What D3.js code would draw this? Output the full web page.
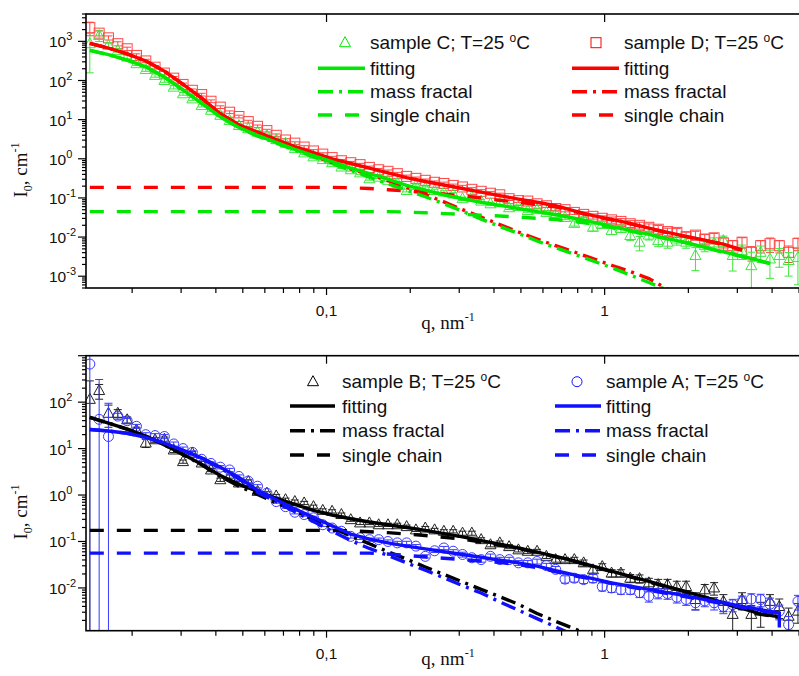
<!DOCTYPE html>
<html><head><meta charset="utf-8">
<script src="https://cdn.jsdelivr.net/npm/d3@7"></script>
<style>body{margin:0;background:#fff}svg{display:block}</style>
</head><body>
<svg id="c" width="799" height="676"></svg>
<script>
// ---------- DATA (q in nm^-1, intensities given as log10(I / cm^-1)) ----------
const qData = [0.01409,0.01522,0.01644,0.01776,0.01919,0.02073,0.02239,0.02418,0.02612,0.02822,
0.03048,0.03293,0.03556,0.03842,0.04150,0.04482,0.04842,0.05230,0.05649,0.06102,
0.06592,0.07120,0.07691,0.08308,0.08974,0.09694,0.1047,0.1131,0.1222,0.1320,
0.1426,0.1540,0.1663,0.1797,0.1941,0.2096,0.2265,0.2446,0.2642,0.2854,
0.3083,0.3330,0.3597,0.3886,0.4198,0.4534,0.4898,0.5291,0.5715,0.6173,
0.6668,0.7203,0.7780,0.8404,0.9078,0.9806,1.059,1.144,1.236,1.335,
1.442,1.558,1.683,1.818,1.963,2.121,2.291,2.475,2.673,2.887,
3.119,3.369,3.639,3.931,4.246,4.587,4.955];

// top panel: sample D (red squares), sample C (green triangles)
const sampleD_log10I = [3.35,3.21,3.09,2.94,2.81,2.64,2.50,2.34,2.19,2.06,
1.90,1.75,1.64,1.47,1.32,1.19,1.08,0.95,0.83,0.72,
0.60,0.48,0.40,0.30,0.20,0.12,0.03,-0.05,-0.10,-0.15,
-0.22,-0.28,-0.32,-0.38,-0.45,-0.50,-0.55,-0.60,-0.63,-0.68,
-0.72,-0.78,-0.83,-0.88,-0.92,-1.02,-1.07,-1.08,-1.15,-1.20,
-1.27,-1.30,-1.37,-1.42,-1.47,-1.52,-1.56,-1.60,-1.66,-1.70,
-1.75,-1.80,-1.86,-1.88,-1.99,-1.95,-2.05,-2.02,-2.15,-2.22,
-2.13,-2.39,-2.22,-2.17,-2.22,-2.39,-2.16];
const sampleD_relErr = [0.38,0.15,0.12,0.12,0.1,0.1,0.1,0.1,0.1,0.1,
0.08,0.08,0.08,0.08,0.08,0.08,0.08,0.08,0.08,0.08,
0.08,0.08,0.08,0.08,0.08,0.08,0.08,0.08,0.08,0.08,
0.08,0.08,0.08,0.08,0.08,0.08,0.08,0.08,0.08,0.08,
0.1,0.1,0.1,0.1,0.1,0.1,0.1,0.1,0.1,0.1,
0.12,0.12,0.12,0.15,0.15,0.15,0.18,0.18,0.2,0.2,
0.22,0.25,0.22,0.25,0.3,0.25,0.3,0.3,0.35,0.35,
0.3,0.4,0.35,0.4,0.35,0.45,0.35];
const sampleC_log10I = [2.94,3.15,2.90,2.77,2.60,2.43,2.28,2.13,2.00,1.83,
1.66,1.53,1.36,1.24,1.11,0.98,0.85,0.77,0.68,0.60,
0.49,0.40,0.26,0.15,0.05,-0.02,-0.10,-0.21,-0.28,-0.36,
-0.51,-0.47,-0.55,-0.62,-0.81,-0.68,-0.75,-0.81,-0.85,-0.90,
-1.02,-0.98,-1.08,-1.15,-1.12,-1.25,-1.22,-1.32,-1.30,-1.37,
-1.40,-1.50,-1.65,-1.55,-1.75,-1.68,-1.83,-1.78,-1.96,-2.13,
-1.95,-2.09,-2.13,-2.05,-2.13,-2.47,-2.22,-2.15,-2.09,-2.47,
-2.35,-2.73,-2.39,-2.56,-2.47,-2.60,-2.52];
const sampleC_relErr = [0.82,0.3,0.15,0.1,0.1,0.1,0.1,0.1,0.1,0.1,
0.08,0.08,0.08,0.08,0.08,0.08,0.08,0.08,0.08,0.08,
0.08,0.08,0.08,0.08,0.08,0.08,0.08,0.08,0.08,0.08,
0.08,0.08,0.08,0.08,0.08,0.08,0.08,0.08,0.08,0.08,
0.1,0.1,0.1,0.1,0.1,0.1,0.1,0.1,0.1,0.1,
0.12,0.12,0.15,0.15,0.2,0.18,0.22,0.2,0.25,0.4,
0.25,0.3,0.3,0.3,0.3,0.59,0.3,0.35,0.3,0.6,
0.4,1.2,0.45,0.68,0.5,0.6,0.8];

// bottom panel: sample B (black triangles), sample A (blue circles)
const sampleB_log10I = [2.06,2.25,1.76,1.76,1.62,1.40,1.12,1.19,1.20,0.97,
0.72,0.90,0.69,0.54,0.33,0.40,0.26,0.29,0.08,0.04,
-0.02,-0.10,-0.14,-0.17,-0.25,-0.33,-0.35,-0.42,-0.53,-0.60,
-0.60,-0.64,-0.64,-0.64,-0.68,-0.75,-0.71,-0.75,-0.78,-0.78,
-0.82,-0.82,-0.96,-1.07,-1.03,-1.11,-1.18,-1.21,-1.21,-1.32,
-1.39,-1.39,-1.39,-1.46,-1.61,-1.54,-1.68,-1.68,-1.79,-1.80,
-1.89,-1.93,-1.93,-1.97,-1.97,-2.25,-2.04,-2.00,-2.29,-2.57,
-2.25,-2.57,-2.50,-2.29,-2.40,-2.61,-2.50];
const sampleB_relErr = [1.5,0.35,0.5,0.2,0.15,0.15,0.2,0.12,0.12,0.12,
0.08,0.08,0.08,0.08,0.08,0.08,0.08,0.08,0.08,0.08,
0.08,0.08,0.08,0.08,0.08,0.08,0.08,0.08,0.08,0.08,
0.08,0.08,0.08,0.08,0.08,0.08,0.08,0.08,0.08,0.08,
0.1,0.1,0.1,0.1,0.1,0.1,0.1,0.1,0.1,0.1,
0.12,0.12,0.12,0.15,0.15,0.15,0.18,0.18,0.2,0.2,
0.25,0.3,0.3,0.3,0.3,0.4,0.3,0.3,0.4,0.6,
0.4,0.55,0.55,0.4,0.45,0.5,0.45];
const sampleA_log10I = [2.82,1.63,1.26,1.70,1.60,1.48,1.30,1.28,1.26,1.10,
1.00,0.92,0.77,0.68,0.60,0.54,0.40,0.30,0.19,0.04,
-0.14,-0.25,-0.37,-0.42,-0.49,-0.64,-0.71,-0.78,-0.89,-0.92,
-0.96,-0.96,-1.00,-1.03,-1.03,-1.10,-1.32,-1.20,-1.14,-1.21,
-1.28,-1.35,-1.39,-1.32,-1.39,-1.39,-1.46,-1.46,-1.43,-1.52,
-1.60,-1.81,-1.79,-1.82,-1.79,-1.97,-2.00,-2.04,-2.04,-2.10,
-2.18,-2.11,-2.12,-2.20,-2.25,-2.32,-2.28,-2.32,-2.40,-2.36,
-2.29,-2.24,-2.25,-2.35,-2.50,-2.79,-2.29];
const sampleA_relErr = [1.5,6.2,4.2,0.15,0.12,0.1,0.1,0.1,0.1,0.1,
0.08,0.08,0.08,0.08,0.08,0.08,0.08,0.08,0.08,0.08,
0.08,0.08,0.08,0.08,0.08,0.08,0.08,0.08,0.08,0.08,
0.08,0.08,0.08,0.08,0.08,0.08,0.08,0.08,0.08,0.08,
0.12,0.12,0.12,0.12,0.12,0.12,0.12,0.12,0.12,0.12,
0.15,0.18,0.18,0.18,0.2,0.2,0.2,0.2,0.2,0.22,
0.25,0.25,0.25,0.25,0.25,0.3,0.25,0.3,0.3,0.3,
0.3,0.3,0.3,0.35,0.35,0.5,0.35];

// model curves
const qFitTop = [0.01409,0.01644,0.01919,0.02239,0.02612,0.03048,0.03556,0.04150,0.04842,0.05649,
0.06592,0.07691,0.08974,0.1047,0.1222,0.1426,0.1663,0.1941,0.2265,0.2642,
0.3083,0.3597,0.4198,0.4898,0.5715,0.6668,0.7780,0.9078,1.059,1.236,
1.442,1.683,1.963,2.291,2.673,3.119,3.639,3.931];
const fitD_log10I = [2.95,2.83,2.68,2.50,2.24,1.90,1.55,1.15,0.87,0.68,
0.49,0.31,0.16,0.00,-0.12,-0.24,-0.36,-0.48,-0.58,-0.67,
-0.76,-0.85,-0.94,-1.03,-1.11,-1.20,-1.33,-1.45,-1.55,-1.65,
-1.77,-1.88,-1.98,-2.08,-2.18,-2.33];
const massD_log10I = [2.95,2.83,2.68,2.50,2.24,1.90,1.55,1.15,0.86,0.66,
0.46,0.27,0.08,-0.10,-0.26,-0.40,-0.56,-0.73,-0.91,-1.10,
-1.30,-1.49,-1.68,-1.87,-2.05,-2.22,-2.38,-2.55,-2.72,-2.88,
-3.06,-3.33];
const singleD_log10I = [-0.73,-0.73,-0.73,-0.73,-0.73,-0.73,-0.73,-0.73,-0.73,-0.73,
-0.73,-0.73,-0.73,-0.73,-0.74,-0.76,-0.79,-0.82,-0.86,-0.90,
-0.95,-1.00,-1.06,-1.11,-1.17,-1.23,-1.35,-1.46,-1.56,-1.66,
-1.78,-1.89,-1.99,-2.09,-2.19,-2.34];
const fitC_log10I = [2.77,2.66,2.52,2.35,2.09,1.76,1.42,1.07,0.80,0.60,
0.42,0.24,0.08,-0.07,-0.24,-0.38,-0.52,-0.68,-0.80,-0.92,
-1.02,-1.11,-1.19,-1.27,-1.35,-1.43,-1.52,-1.62,-1.73,-1.83,
-1.93,-2.04,-2.14,-2.26,-2.38,-2.49,-2.61,-2.67];
const massC_log10I = [2.77,2.66,2.52,2.35,2.09,1.76,1.42,1.07,0.79,0.58,
0.40,0.22,0.05,-0.12,-0.30,-0.47,-0.64,-0.80,-0.97,-1.15,
-1.34,-1.54,-1.73,-1.91,-2.10,-2.27,-2.44,-2.61,-2.78,-2.97,
-3.16,-3.36];
const singleC_log10I = [-1.35,-1.35,-1.35,-1.35,-1.35,-1.35,-1.35,-1.35,-1.35,-1.35,
-1.35,-1.35,-1.35,-1.35,-1.35,-1.35,-1.35,-1.36,-1.38,-1.40,
-1.42,-1.44,-1.46,-1.49,-1.52,-1.55,-1.60,-1.67,-1.76,-1.85,
-1.95,-2.05,-2.15,-2.27,-2.39,-2.50,-2.62,-2.68];

const qFitBottom = [0.01409,0.01644,0.01919,0.02239,0.02612,0.03048,0.03556,0.04150,0.04842,0.05649,
0.06592,0.07691,0.08974,0.1047,0.1222,0.1426,0.1663,0.1941,0.2265,0.2642,
0.3083,0.3597,0.4198,0.4898,0.5715,0.6668,0.7780,0.9078,1.059,1.236,
1.442,1.683,1.963,2.291,2.673,3.119,3.639,4.246,4.246];
const fitB_log10I = [1.67,1.55,1.42,1.27,1.08,0.88,0.66,0.42,0.23,0.08,
-0.07,-0.20,-0.33,-0.43,-0.51,-0.58,-0.64,-0.70,-0.76,-0.83,
-0.90,-0.98,-1.06,-1.14,-1.23,-1.32,-1.42,-1.53,-1.64,-1.75,
-1.86,-1.97,-2.08,-2.20,-2.32,-2.44,-2.56,-2.62];
const massB_log10I = [1.67,1.55,1.42,1.27,1.08,0.87,0.65,0.40,0.19,0.01,
-0.17,-0.34,-0.53,-0.70,-0.88,-1.05,-1.22,-1.38,-1.55,-1.71,
-1.87,-2.03,-2.19,-2.35,-2.55,-2.72,-2.88,-3.05];
const singleB_log10I = [-0.76,-0.76,-0.76,-0.76,-0.76,-0.76,-0.76,-0.76,-0.76,-0.76,
-0.76,-0.76,-0.76,-0.76,-0.77,-0.79,-0.81,-0.84,-0.87,-0.91,
-0.95,-1.01,-1.08,-1.15,-1.24,-1.33,-1.43,-1.54,-1.65,-1.76,
-1.87,-1.98,-2.09,-2.21,-2.33,-2.45,-2.57,-2.63];
const fitA_log10I = [1.41,1.38,1.33,1.24,1.12,0.96,0.80,0.60,0.38,0.10,
-0.10,-0.30,-0.48,-0.66,-0.84,-0.95,-1.03,-1.10,-1.16,-1.22,
-1.28,-1.34,-1.40,-1.46,-1.53,-1.63,-1.72,-1.80,-1.89,-1.96,
-2.03,-2.10,-2.17,-2.25,-2.32,-2.40,-2.47,-2.54,-2.85];
const massA_log10I = [1.41,1.38,1.33,1.24,1.12,0.96,0.78,0.58,0.35,0.06,
-0.14,-0.36,-0.57,-0.78,-0.98,-1.15,-1.30,-1.46,-1.62,-1.78,
-1.95,-2.11,-2.30,-2.48,-2.66,-2.84,-3.02];
const singleA_log10I = [-1.25,-1.25,-1.25,-1.25,-1.25,-1.25,-1.25,-1.25,-1.25,-1.25,
-1.25,-1.25,-1.25,-1.25,-1.25,-1.25,-1.27,-1.30,-1.33,-1.36,
-1.39,-1.42,-1.45,-1.50,-1.56,-1.65,-1.74,-1.81,-1.90,-1.98,
-2.05,-2.12,-2.19,-2.27,-2.34,-2.42,-2.49,-2.56];

// axis ticks / labels
const xMajorTicks = [0.1, 1];
const xTickLabels = ["0,1", "1"];
const topYTickExp = [-3,-2,-1,0,1,2,3];
const bottomYTickExp = [-2,-1,0,1,2];

// ---------- DRAWING ----------
const SANS = "'Liberation Sans', Arial, sans-serif";
const SERIF = "'Liberation Serif', 'Times New Roman', serif";
const svg = d3.select('#c');
const X0 = 86, X1 = 800;
const x = d3.scaleLog().domain([0.01365, 5.04]).range([X0, X1]);

const RED = '#ff0000', GREEN = '#00e800', BLUE = '#1010ff', BLACK = '#000000';
const DASHDOT = '15,6,3,6', DASHED = '14,13';
const LW = 3.4;

function zip(q, v) { return v.map((d, i) => [q[i], Math.pow(10, d)]); }

function marker(g, type, cx, cy, color) {
  if (type === 'square') {
    g.append('rect').attr('x', cx - 5).attr('y', cy - 5).attr('width', 10).attr('height', 10)
      .attr('fill', 'none').attr('stroke', color).attr('stroke-width', 1);
  } else if (type === 'triangle') {
    g.append('path').attr('d', `M${cx},${cy - 6}L${cx + 5.5},${cy + 4}L${cx - 5.5},${cy + 4}Z`)
      .attr('fill', 'none').attr('stroke', color).attr('stroke-width', 1);
  } else {
    g.append('circle').attr('cx', cx).attr('cy', cy).attr('r', 5)
      .attr('fill', 'none').attr('stroke', color).attr('stroke-width', 1);
  }
}

function drawPanel(p) {
  const y = d3.scaleLog().domain(p.yDomain).range([p.bottom, p.top]);
  const id = 'clip' + p.id;
  svg.append('clipPath').attr('id', id).append('rect')
    .attr('x', X0).attr('y', p.top).attr('width', X1 - X0).attr('height', p.bottom - p.top);
  const plot = svg.append('g').attr('clip-path', `url(#${id})`);

  // data with error bars
  p.samples.forEach(s => {
    const g = plot.append('g');
    s.vals.forEach((v, i) => {
      const I = Math.pow(10, v), e = s.err[i];
      const cx = x(qData[i]), cy = y(I);
      const hi = y(I * (1 + e));
      const lo = (1 - e) > 0 ? y(I * (1 - e)) : p.bottom + 20;
      g.append('line').attr('x1', cx).attr('x2', cx).attr('y1', lo).attr('y2', hi)
        .attr('stroke', s.color).attr('stroke-width', 1);
      [lo, hi].forEach(yy => g.append('line').attr('x1', cx - 4).attr('x2', cx + 4)
        .attr('y1', yy).attr('y2', yy).attr('stroke', s.color).attr('stroke-width', 1));
      marker(g, s.marker, cx, cy, s.color);
    });
  });

  // model curves
  const line = d3.line().x(d => x(d[0])).y(d => y(d[1]));
  p.curves.forEach(c => {
    plot.append('path').datum(zip(c.q, c.vals)).attr('d', line)
      .attr('fill', 'none').attr('stroke', c.color).attr('stroke-width', LW)
      .attr('stroke-dasharray', c.dash || null);
  });

  // frame
  svg.append('rect').attr('x', X0).attr('y', p.top).attr('width', X1 - X0).attr('height', p.bottom - p.top)
    .attr('fill', 'none').attr('stroke', '#000').attr('stroke-width', 1.6);

  // y ticks
  const ax = svg.append('g').attr('stroke', '#000').attr('stroke-width', 1.2);
  const e0 = Math.floor(Math.log10(p.yDomain[0])), e1 = Math.ceil(Math.log10(p.yDomain[1]));
  for (let e = e0; e <= e1; e++) {
    for (let m = 1; m <= 9; m++) {
      const v = m * Math.pow(10, e);
      if (v < p.yDomain[0] || v > p.yDomain[1]) continue;
      const yy = y(v);
      ax.append('line').attr('x1', X0 - (m === 1 ? 8 : 4)).attr('x2', X0).attr('y1', yy).attr('y2', yy);
    }
  }
  p.yTickExp.forEach(e => {
    const yy = y(Math.pow(10, e));
    const t = svg.append('text').attr('x', 49).attr('y', yy + 6).attr('font-family', SANS).attr('font-size', 15.5).attr('fill', '#111');
    t.append('tspan').text('10');
    t.append('tspan').attr('dy', -7).attr('font-size', 11).text(String(e));
  });

  // x ticks
  for (let e = -2; e <= 0; e++) {
    for (let m = 1; m <= 9; m++) {
      const v = m * Math.pow(10, e);
      if (v < x.domain()[0] || v > x.domain()[1]) continue;
      const xx = x(v);
      ax.append('line').attr('x1', xx).attr('x2', xx).attr('y1', p.bottom).attr('y2', p.bottom + (m === 1 ? 7 : 5));
      if (m === 1) ax.append('line').attr('x1', xx).attr('x2', xx).attr('y1', p.top).attr('y2', p.top + 8);
    }
  }
  xMajorTicks.forEach((v, i) => {
    svg.append('text').attr('x', x(v)).attr('y', p.bottom + 28).attr('text-anchor', 'middle')
      .attr('font-family', SANS).attr('font-size', 15.5).attr('fill', '#111').text(xTickLabels[i]);
  });

  // axis titles
  const yt = svg.append('text').attr('transform', `translate(27,${p.yLabelY}) rotate(-90)`)
    .attr('text-anchor', 'middle').attr('font-family', SERIF).attr('font-size', 19).attr('fill', '#111');
  yt.append('tspan').text('I');
  yt.append('tspan').attr('dy', 5).attr('font-size', 12).text('0');
  yt.append('tspan').attr('dy', -5).text(', cm');
  yt.append('tspan').attr('dy', -8).attr('font-size', 12).text('-1');
  const xt = svg.append('text').attr('x', 448).attr('y', p.xLabelY).attr('text-anchor', 'middle')
    .attr('font-family', SERIF).attr('font-size', 19).attr('fill', '#111');
  xt.append('tspan').text('q, nm');
  xt.append('tspan').attr('dy', -8).attr('font-size', 12).text('-1');

  // legend
  p.legend.forEach(col => {
    const lg = svg.append('g');
    marker(lg, col.marker, col.markerX, col.rows[0], col.color);
    const texts = [null, 'fitting', 'mass fractal', 'single chain'];
    const dashes = [null, null, DASHDOT, DASHED];
    for (let r = 1; r <= 3; r++) {
      lg.append('line').attr('x1', col.lineX0).attr('x2', r === 3 ? col.lineX1 - 5 : col.lineX1)
        .attr('y1', col.rows[r]).attr('y2', col.rows[r])
        .attr('stroke', col.color).attr('stroke-width', LW).attr('stroke-dasharray', dashes[r]);
      lg.append('text').attr('x', col.textX).attr('y', col.rows[r] + 6.5)
        .attr('font-family', SANS).attr('font-size', 19).attr('fill', '#111').text(texts[r]);
    }
    const t = lg.append('text').attr('x', col.textX).attr('y', col.rows[0] + 6.5)
      .attr('font-family', SANS).attr('font-size', 19).attr('fill', '#111');
    t.append('tspan').text(col.title + '; T=25 ');
    t.append('tspan').attr('dy', -7).attr('font-size', 12).text('o');
    t.append('tspan').attr('dy', 7).text('C');
  });
}

drawPanel({
  id: 'top', top: 14, bottom: 288, yDomain: [5e-4, 5000], yTickExp: topYTickExp,
  yLabelY: 170, xLabelY: 329,
  samples: [
    { vals: sampleD_log10I, err: sampleD_relErr, color: '#ff4545', marker: 'square' },
    { vals: sampleC_log10I, err: sampleC_relErr, color: '#3de83d', marker: 'triangle' }
  ],
  curves: [
    { q: qFitTop, vals: fitD_log10I, color: RED },
    { q: qFitTop, vals: massD_log10I, color: RED, dash: DASHDOT },
    { q: qFitTop, vals: singleD_log10I, color: RED, dash: DASHED },
    { q: qFitTop, vals: fitC_log10I, color: GREEN },
    { q: qFitTop, vals: massC_log10I, color: GREEN, dash: DASHDOT },
    { q: qFitTop, vals: singleC_log10I, color: GREEN, dash: DASHED }
  ],
  legend: [
    { title: 'sample C', marker: 'triangle', color: GREEN, markerX: 345, lineX0: 318, lineX1: 365, textX: 370, rows: [42.7, 68.3, 91.7, 115] },
    { title: 'sample D', marker: 'square', color: RED, markerX: 596, lineX0: 572, lineX1: 619, textX: 624, rows: [42.7, 68.3, 91.7, 115] }
  ]
});

drawPanel({
  id: 'bot', top: 355.7, bottom: 630.7, yDomain: [0.0012, 1000], yTickExp: bottomYTickExp,
  yLabelY: 512, xLabelY: 665,
  samples: [
    { vals: sampleB_log10I, err: sampleB_relErr, color: '#222222', marker: 'triangle' },
    { vals: sampleA_log10I, err: sampleA_relErr, color: '#3a3aff', marker: 'circle' }
  ],
  curves: [
    { q: qFitBottom, vals: fitB_log10I, color: BLACK },
    { q: qFitBottom, vals: massB_log10I, color: BLACK, dash: DASHDOT },
    { q: qFitBottom, vals: singleB_log10I, color: BLACK, dash: DASHED },
    { q: qFitBottom, vals: fitA_log10I, color: BLUE },
    { q: qFitBottom, vals: massA_log10I, color: BLUE, dash: DASHDOT },
    { q: qFitBottom, vals: singleA_log10I, color: BLUE, dash: DASHED }
  ],
  legend: [
    { title: 'sample B', marker: 'triangle', color: BLACK, markerX: 313, lineX0: 290, lineX1: 335, textX: 342, rows: [381.7, 406, 430.7, 455] },
    { title: 'sample A', marker: 'circle', color: BLUE, markerX: 577, lineX0: 555, lineX1: 601, textX: 606, rows: [381.7, 406, 430.7, 455] }
  ]
});
</script>
</body></html>
